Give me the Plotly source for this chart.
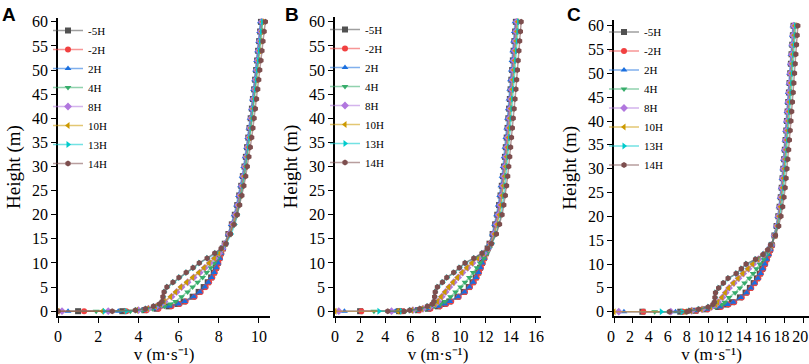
import plotly.graph_objects as go

# ---------------- data ----------------
series_names = ["-5H", "-2H", "2H", "4H", "8H", "10H", "13H", "14H"]

heights = [0, 0, 0.2, 0.5, 1, 1.5, 2, 3, 4, 5, 6, 7, 8, 9, 10, 11, 12, 13, 14,
           16, 18, 20, 22, 24, 26, 28, 30, 32, 34, 36, 38, 40, 42, 44, 46, 48,
           50, 52, 54, 56, 58, 60]

# Panel A
A_m5H = [1.0, 3.2, 4.3, 4.9, 5.5, 5.95, 6.25, 6.7, 7.0, 7.25, 7.45, 7.62, 7.75, 7.86, 7.95, 8.03, 8.1, 8.2, 8.3, 8.48, 8.65, 8.8, 8.92, 9.02, 9.12, 9.2, 9.28, 9.35, 9.41, 9.47, 9.53, 9.59, 9.65, 9.7, 9.76, 9.81, 9.86, 9.91, 9.96, 10.01, 10.06, 10.1]
A_m2H = [1.3, 3.4, 4.4, 5.0, 5.65, 6.05, 6.35, 6.8, 7.1, 7.35, 7.52, 7.68, 7.8, 7.9, 7.98, 8.06, 8.13, 8.22, 8.32, 8.5, 8.66, 8.82, 8.94, 9.04, 9.14, 9.22, 9.3, 9.37, 9.43, 9.5, 9.56, 9.62, 9.68, 9.73, 9.79, 9.84, 9.89, 9.94, 9.99, 10.04, 10.09, 10.14]
A_2H = [0.5, 3.0, 4.2, 4.85, 5.55, 6.0, 6.3, 6.75, 7.05, 7.3, 7.48, 7.64, 7.77, 7.88, 7.97, 8.05, 8.12, 8.21, 8.31, 8.47, 8.62, 8.76, 8.88, 8.98, 9.08, 9.16, 9.24, 9.31, 9.38, 9.44, 9.5, 9.56, 9.62, 9.67, 9.73, 9.78, 9.83, 9.88, 9.93, 9.98, 10.03, 10.07]
A_4H = [1.9, 3.6, 4.2, 4.7, 5.3, 5.6, 5.85, 6.15, 6.45, 6.7, 6.95, 7.2, 7.4, 7.6, 7.78, 7.94, 8.07, 8.2, 8.32, 8.52, 8.7, 8.85, 8.97, 9.07, 9.16, 9.24, 9.32, 9.39, 9.45, 9.51, 9.57, 9.63, 9.69, 9.74, 9.8, 9.85, 9.9, 9.95, 10.0, 10.05, 10.1, 10.15]
A_8H = [0.2, 2.5, 4.0, 4.5, 4.9, 5.15, 5.3, 5.65, 5.9, 6.15, 6.45, 6.75, 7.05, 7.3, 7.55, 7.8, 8.02, 8.18, 8.32, 8.53, 8.7, 8.84, 8.96, 9.06, 9.15, 9.23, 9.31, 9.38, 9.44, 9.5, 9.56, 9.62, 9.68, 9.73, 9.79, 9.84, 9.89, 9.94, 9.99, 10.04, 10.09, 10.14]
A_10H = [0.0, 2.2, 3.9, 4.45, 4.85, 5.1, 5.28, 5.6, 5.85, 6.1, 6.4, 6.7, 7.0, 7.27, 7.52, 7.78, 8.0, 8.17, 8.33, 8.55, 8.72, 8.87, 8.99, 9.09, 9.18, 9.26, 9.34, 9.41, 9.47, 9.53, 9.59, 9.65, 9.71, 9.77, 9.83, 9.88, 9.93, 9.98, 10.03, 10.08, 10.13, 10.18]
A_13H = [2.3, 3.4, 3.9, 4.4, 4.8, 5.1, 5.2, 5.25, 5.3, 5.45, 5.75, 6.05, 6.4, 6.75, 7.05, 7.45, 7.85, 8.15, 8.38, 8.62, 8.8, 8.93, 9.03, 9.12, 9.2, 9.28, 9.35, 9.42, 9.48, 9.54, 9.6, 9.66, 9.72, 9.77, 9.82, 9.87, 9.92, 9.97, 10.02, 10.07, 10.12, 10.18]
A_14H = [0.0, 2.7, 3.85, 4.35, 4.75, 5.05, 5.18, 5.22, 5.28, 5.42, 5.72, 6.02, 6.38, 6.72, 7.03, 7.42, 7.8, 8.12, 8.36, 8.58, 8.76, 8.92, 9.04, 9.15, 9.25, 9.34, 9.42, 9.5, 9.57, 9.64, 9.7, 9.76, 9.82, 9.88, 9.94, 9.99, 10.04, 10.1, 10.15, 10.2, 10.26, 10.32]

# Panel B
B_m5H = [2.0, 5.1, 6.6, 7.4, 8.2, 8.7, 9.1, 9.75, 10.25, 10.65, 10.95, 11.2, 11.4, 11.55, 11.7, 11.85, 12.0, 12.15, 12.3, 12.55, 12.75, 12.92, 13.06, 13.18, 13.28, 13.37, 13.45, 13.53, 13.6, 13.67, 13.74, 13.8, 13.86, 13.92, 13.98, 14.04, 14.1, 14.16, 14.22, 14.28, 14.34, 14.4]
B_m2H = [2.1, 5.4, 6.7, 7.6, 8.35, 8.85, 9.25, 9.85, 10.35, 10.75, 11.05, 11.28, 11.47, 11.62, 11.77, 11.91, 12.05, 12.2, 12.35, 12.58, 12.78, 12.95, 13.09, 13.21, 13.31, 13.4, 13.48, 13.56, 13.63, 13.7, 13.77, 13.83, 13.89, 13.95, 14.01, 14.07, 14.13, 14.19, 14.25, 14.31, 14.37, 14.43]
B_2H = [0.75, 4.8, 6.5, 7.45, 8.25, 8.75, 9.15, 9.8, 10.3, 10.7, 11.0, 11.24, 11.43, 11.58, 11.73, 11.88, 12.02, 12.17, 12.32, 12.52, 12.7, 12.86, 12.99, 13.11, 13.21, 13.3, 13.38, 13.46, 13.53, 13.6, 13.67, 13.73, 13.79, 13.85, 13.91, 13.97, 14.03, 14.09, 14.15, 14.21, 14.27, 14.33]
B_4H = [3.1, 5.6, 6.4, 7.2, 7.9, 8.4, 8.75, 9.2, 9.6, 10.0, 10.35, 10.7, 11.0, 11.3, 11.55, 11.85, 12.1, 12.3, 12.45, 12.68, 12.88, 13.04, 13.17, 13.28, 13.38, 13.47, 13.55, 13.63, 13.7, 13.77, 13.84, 13.9, 13.96, 14.02, 14.08, 14.14, 14.2, 14.26, 14.32, 14.38, 14.44, 14.5]
B_8H = [0.3, 4.5, 6.2, 7.0, 7.6, 8.0, 8.2, 8.5, 8.8, 9.1, 9.45, 9.8, 10.15, 10.55, 10.95, 11.4, 11.85, 12.2, 12.42, 12.66, 12.86, 13.02, 13.15, 13.26, 13.36, 13.45, 13.53, 13.61, 13.68, 13.75, 13.82, 13.88, 13.94, 14.0, 14.06, 14.12, 14.18, 14.24, 14.3, 14.36, 14.42, 14.48]
B_10H = [0.0, 5.0, 6.1, 6.9, 7.5, 7.95, 8.15, 8.45, 8.75, 9.05, 9.4, 9.75, 10.1, 10.5, 10.9, 11.35, 11.8, 12.15, 12.4, 12.7, 12.92, 13.08, 13.21, 13.32, 13.42, 13.51, 13.59, 13.67, 13.74, 13.81, 13.88, 13.94, 14.0, 14.06, 14.12, 14.18, 14.24, 14.3, 14.36, 14.42, 14.48, 14.54]
B_13H = [3.5, 5.3, 6.0, 6.8, 7.4, 7.8, 7.9, 7.95, 8.0, 8.2, 8.6, 8.95, 9.5, 9.95, 10.4, 11.1, 11.75, 12.2, 12.5, 12.8, 13.05, 13.22, 13.35, 13.45, 13.54, 13.62, 13.7, 13.77, 13.84, 13.9, 13.96, 14.02, 14.08, 14.14, 14.2, 14.26, 14.32, 14.38, 14.44, 14.5, 14.56, 14.62]
B_14H = [4.2, 5.5, 5.95, 6.75, 7.35, 7.75, 7.88, 7.93, 7.98, 8.15, 8.55, 8.9, 9.45, 9.9, 10.35, 11.05, 11.7, 12.15, 12.45, 12.85, 13.1, 13.3, 13.44, 13.56, 13.66, 13.75, 13.83, 13.91, 13.98, 14.05, 14.12, 14.19, 14.26, 14.33, 14.4, 14.46, 14.52, 14.58, 14.64, 14.7, 14.76, 14.82]

# Panel C
C_m5H = [3.0, 7.0, 8.6, 9.7, 11.0, 11.85, 12.45, 13.3, 13.9, 14.35, 14.75, 15.1, 15.4, 15.65, 15.88, 16.08, 16.28, 16.48, 16.65, 16.95, 17.18, 17.36, 17.5, 17.62, 17.72, 17.81, 17.89, 17.97, 18.05, 18.13, 18.2, 18.27, 18.34, 18.41, 18.48, 18.55, 18.62, 18.69, 18.76, 18.83, 18.9, 18.97]
C_m2H = [3.1, 7.3, 8.7, 9.9, 11.3, 12.1, 12.7, 13.5, 14.05, 14.5, 14.9, 15.25, 15.52, 15.77, 15.98, 16.17, 16.36, 16.55, 16.72, 17.0, 17.22, 17.4, 17.54, 17.66, 17.76, 17.85, 17.93, 18.01, 18.09, 18.17, 18.24, 18.31, 18.38, 18.45, 18.52, 18.59, 18.66, 18.73, 18.8, 18.87, 18.94, 19.01]
C_2H = [1.05, 6.5, 8.5, 9.8, 11.2, 12.0, 12.6, 13.4, 14.0, 14.45, 14.85, 15.2, 15.48, 15.72, 15.93, 16.13, 16.33, 16.52, 16.68, 16.94, 17.14, 17.3, 17.43, 17.55, 17.65, 17.74, 17.82, 17.9, 17.98, 18.06, 18.13, 18.2, 18.27, 18.34, 18.41, 18.48, 18.55, 18.62, 18.69, 18.76, 18.83, 18.9]
C_4H = [4.3, 7.5, 8.4, 9.5, 10.7, 11.4, 11.7, 12.15, 12.8, 13.3, 13.8, 14.3, 14.7, 15.05, 15.4, 15.8, 16.15, 16.45, 16.68, 16.98, 17.2, 17.38, 17.52, 17.64, 17.74, 17.83, 17.91, 17.99, 18.07, 18.15, 18.22, 18.29, 18.36, 18.43, 18.5, 18.57, 18.64, 18.71, 18.78, 18.85, 18.92, 18.99]
C_8H = [0.5, 6.0, 8.2, 9.3, 10.3, 10.8, 11.0, 11.45, 11.8, 12.15, 12.65, 13.15, 13.65, 14.2, 14.7, 15.25, 15.8, 16.3, 16.6, 16.96, 17.2, 17.38, 17.52, 17.64, 17.74, 17.83, 17.91, 17.99, 18.07, 18.15, 18.22, 18.29, 18.36, 18.43, 18.5, 18.57, 18.64, 18.71, 18.78, 18.85, 18.92, 18.99]
C_10H = [0.0, 7.5, 8.1, 9.2, 10.2, 10.75, 10.95, 11.4, 11.75, 12.1, 12.6, 13.1, 13.6, 14.15, 14.65, 15.2, 15.75, 16.25, 16.58, 17.0, 17.25, 17.44, 17.59, 17.71, 17.82, 17.92, 18.01, 18.1, 18.18, 18.26, 18.34, 18.41, 18.48, 18.55, 18.62, 18.69, 18.76, 18.83, 18.9, 18.97, 19.04, 19.11]
C_13H = [5.0, 7.2, 8.0, 9.0, 10.0, 10.5, 10.65, 10.7, 10.75, 11.1, 11.6, 12.1, 12.95, 13.5, 14.0, 15.0, 15.8, 16.3, 16.6, 17.0, 17.32, 17.54, 17.7, 17.82, 17.92, 18.01, 18.1, 18.18, 18.26, 18.34, 18.42, 18.49, 18.56, 18.63, 18.7, 18.77, 18.84, 18.91, 18.98, 19.05, 19.12, 19.19]
C_14H = [5.85, 7.7, 7.95, 8.95, 9.95, 10.45, 10.6, 10.66, 10.72, 11.05, 11.55, 12.05, 12.9, 13.45, 13.95, 14.95, 15.75, 16.25, 16.55, 17.05, 17.4, 17.64, 17.82, 17.96, 18.08, 18.18, 18.27, 18.36, 18.45, 18.53, 18.61, 18.69, 18.77, 18.85, 18.93, 19.0, 19.07, 19.14, 19.21, 19.28, 19.35, 19.42]

panel_A = [A_m5H, A_m2H, A_2H, A_4H, A_8H, A_10H, A_13H, A_14H]
panel_B = [B_m5H, B_m2H, B_2H, B_4H, B_8H, B_10H, B_13H, B_14H]
panel_C = [C_m5H, C_m2H, C_2H, C_4H, C_8H, C_10H, C_13H, C_14H]

x_ticks_A = [0, 2, 4, 6, 8, 10]
x_ticks_B = [0, 2, 4, 6, 8, 10, 12, 14, 16]
x_ticks_C = [0, 2, 4, 6, 8, 10, 12, 14, 16, 18, 20]
y_ticks = [0, 5, 10, 15, 20, 25, 30, 35, 40, 45, 50, 55, 60]

# ---------------- style ----------------
colors = ["#515151", "#F14040", "#1A6FDF", "#37AD6B", "#B177DE", "#CC9900", "#00CBCC", "#7D4E4E"]
line_colors = ["rgba(81,81,81,0.55)", "rgba(241,64,64,0.55)", "rgba(26,111,223,0.55)",
               "rgba(55,173,107,0.55)", "rgba(177,119,222,0.55)", "rgba(204,153,0,0.55)",
               "rgba(0,203,204,0.55)", "rgba(125,78,78,0.55)"]
symbols = ["square", "circle", "triangle-up", "triangle-down", "diamond",
           "triangle-left", "triangle-right", "hexagon"]

W, Hpx = 809, 364
SERIF = "Liberation Serif, Times New Roman, serif"


def px_x(p):
    return p / W


def px_y(p):
    return 1 - p / Hpx


fig = go.Figure()

panels = [
    dict(data=panel_A, xa="x", ya="y", legend="legend"),
    dict(data=panel_B, xa="x2", ya="y2", legend="legend2"),
    dict(data=panel_C, xa="x3", ya="y3", legend="legend3"),
]

for p in panels:
    for i, name in enumerate(series_names):
        fig.add_trace(go.Scatter(
            x=p["data"][i], y=heights, mode="lines+markers", name=name,
            xaxis=p["xa"], yaxis=p["ya"], legend=p["legend"],
            line=dict(color=line_colors[i], width=1.5),
            marker=dict(color=colors[i], symbol=symbols[i], size=6, line=dict(width=0)),
        ))

axis_common = dict(
    showline=True, linecolor="black", linewidth=1.5, ticks="outside", ticklen=5,
    tickwidth=1.3, tickcolor="black", showgrid=False, zeroline=False,
    tickfont=dict(family=SERIF, size=16, color="black"), mirror=False,
    ticklabeloverflow="allow",
)

# panel geometry (pixels)
geo = [
    dict(x0=58, x1=270, y0=18, y1=316, xr=[0, 10.55], yr=[-1.0, 60.8], xt=x_ticks_A, shift=0),
    dict(x0=335, x1=541, y0=17, y1=316, xr=[0, 16.4], yr=[-1.0, 61.0], xt=x_ticks_B, shift=0),
    dict(x0=614, x1=809, y0=19.5, y1=316, xr=[0, 20.6], yr=[-0.9, 61.3], xt=x_ticks_C, shift=-3),
]

layout = dict(
    width=W, height=Hpx, margin=dict(l=0, r=0, t=0, b=0, autoexpand=False),
    paper_bgcolor="white", plot_bgcolor="white", showlegend=True,
)

for k, g in enumerate(geo):
    sx = "" if k == 0 else str(k + 1)
    layout["xaxis" + sx] = dict(
        axis_common, domain=[px_x(g["x0"]), px_x(g["x1"])], range=g["xr"],
        anchor="y" + sx, tickvals=g["xt"], ticklabelshift=g["shift"],
        title=dict(text="v (m·s⁻¹)", standoff=6,
                   font=dict(family=SERIF, size=17, color="black")),
    )
    layout["yaxis" + sx] = dict(
        axis_common, domain=[px_y(g["y1"]), px_y(g["y0"])], range=g["yr"],
        anchor="x" + sx, tickvals=y_ticks,
        title=dict(text="Height (m)", standoff=6,
                   font=dict(family=SERIF, size=19, color="black")),
    )
    lg = "legend" if k == 0 else "legend" + str(k + 1)
    layout[lg] = dict(
        x=px_x(g["x0"] - 10), y=px_y(g["y0"] - 2), xanchor="left", yanchor="top",
        bgcolor="rgba(0,0,0,0)", font=dict(family=SERIF, size=11, color="black"),
        itemwidth=30, tracegroupgap=0,
    )

fig.update_layout(**layout)

letters = [("A", 0), ("B", 283), ("C", 565)]
for txt, xp in letters:
    fig.add_annotation(
        text="<b>%s</b>" % txt, x=px_x(xp), y=px_y(2), xref="paper", yref="paper",
        xanchor="left", yanchor="top", showarrow=False,
        font=dict(family="Liberation Sans, Arial, sans-serif", size=19, color="black"),
    )

fig.write_html("out.html", config={"displayModeBar": False},
               post_script="document.body.style.margin='0';")
